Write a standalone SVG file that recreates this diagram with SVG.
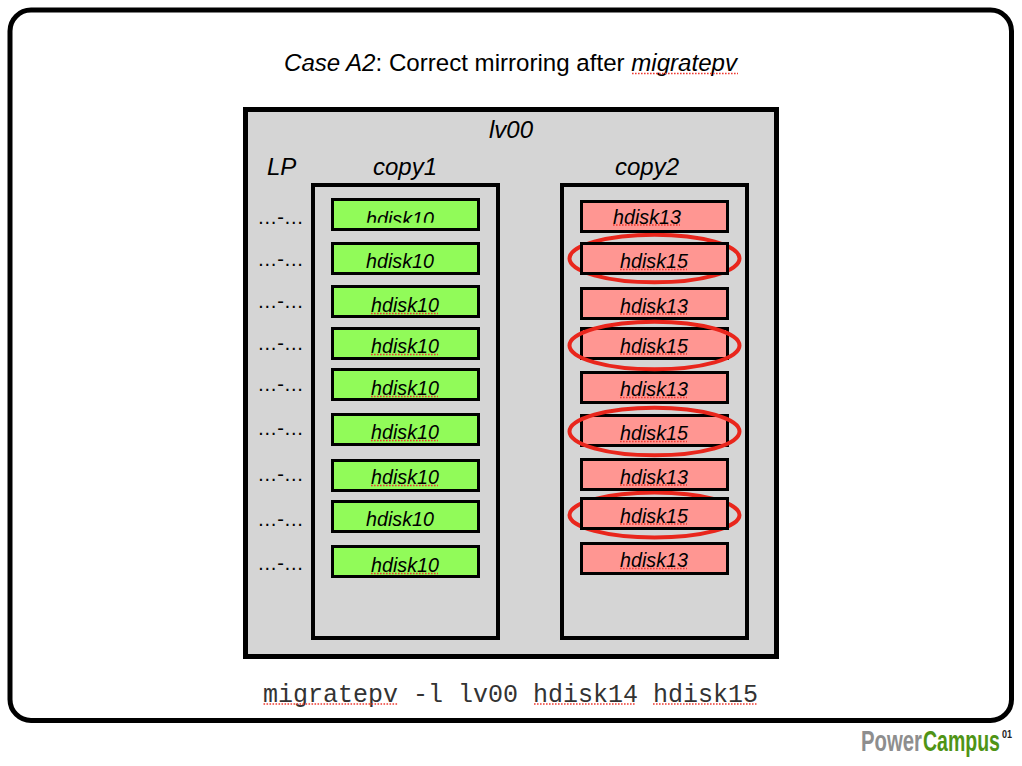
<svg xmlns="http://www.w3.org/2000/svg" width="1022" height="766" viewBox="0 0 1022 766">
<defs>
<style>
text{font-family:"Liberation Sans",Arial,sans-serif;fill:#000}
.i{font-style:italic}
.t{font-size:24.1px}
.h{font-size:24px;font-style:italic}
.d{font-size:19.7px;font-style:italic;text-anchor:middle}
.lp{font-size:20px;text-anchor:middle}
.g{fill:#91fb59;stroke:#000;stroke-width:3}
.r{fill:#ff9692;stroke:#000;stroke-width:3}
.c{fill:none;stroke:#000;stroke-width:4}
.e{fill:none;stroke:#e9261c;stroke-width:4}
.s{fill:none;stroke:#ee3a32;stroke-width:1.6;stroke-dasharray:1.6 1.4}
</style>
<clipPath id="clip-first"><rect x="332" y="198" width="147" height="24.700"/></clipPath>
</defs>
<rect x="0" y="0" width="1022" height="766" fill="#fff"/>
<rect id="frame" x="10" y="10" width="1001.500" height="710.500" rx="21" fill="#fff" stroke="#000" stroke-width="5"/>
<g id="title">
<text x="284" y="71" class="t"><tspan class="i">Case A2</tspan>: Correct mirroring after <tspan class="i">migratepv</tspan></text>
<path class="s" d="M632 73.500H738"/>
</g>
<g id="lv00">
<rect x="245.500" y="109.500" width="531" height="547" fill="#d5d5d5" stroke="#000" stroke-width="5"/>
<text x="489" y="138" class="h">lv00</text>
<text x="267" y="175" class="h">LP</text>
</g>
<g id="copy1">
<text x="373" y="175" class="h">copy1</text>
<rect x="313" y="185" width="185" height="453" class="c"/>
</g>
<g id="copy2">
<text x="615" y="175" class="h">copy2</text>
<rect x="562" y="185" width="185" height="453" class="c"/>
</g>
<g id="lp-labels">
<text x="280.500" y="224" class="lp">…-…</text>
<text x="280.500" y="266" class="lp">…-…</text>
<text x="280.500" y="308" class="lp">…-…</text>
<text x="280.500" y="350" class="lp">…-…</text>
<text x="280.500" y="391" class="lp">…-…</text>
<text x="280.500" y="435" class="lp">…-…</text>
<text x="280.500" y="481" class="lp">…-…</text>
<text x="280.500" y="526" class="lp">…-…</text>
<text x="280.500" y="570" class="lp">…-…</text>
</g>
<g id="copy1-disks">
<rect x="332.500" y="199.500" width="146" height="30" class="g"/><text x="400" y="225.500" class="d" clip-path="url(#clip-first)">hdisk10</text>
<rect x="332.500" y="243.500" width="146" height="30" class="g"/><text x="400" y="268" class="d">hdisk10</text>
<rect x="332.500" y="286.500" width="146" height="30" class="g"/><text x="405" y="312" class="d">hdisk10</text><path class="s" d="M371 313.500H438"/>
<rect x="332.500" y="328.500" width="146" height="30" class="g"/><text x="405" y="353" class="d">hdisk10</text><path class="s" d="M371 354.500H438"/>
<rect x="332.500" y="369.500" width="146" height="30" class="g"/><text x="405" y="395" class="d">hdisk10</text><path class="s" d="M371 396.500H438"/>
<rect x="332.500" y="414.500" width="146" height="30" class="g"/><text x="405" y="439" class="d">hdisk10</text><path class="s" d="M371 440.500H438"/>
<rect x="332.500" y="460.500" width="146" height="30" class="g"/><text x="405" y="484" class="d">hdisk10</text><path class="s" d="M371 485.500H438"/>
<rect x="332.500" y="501.500" width="146" height="30" class="g"/><text x="400" y="526" class="d">hdisk10</text>
<rect x="332.500" y="546.500" width="146" height="30" class="g"/><text x="405" y="572" class="d">hdisk10</text><path class="s" d="M371 573.500H438"/>
</g>
<g id="highlights-behind">
<ellipse cx="654.500" cy="258.500" rx="85" ry="23.800" class="e"/>
<ellipse cx="654.500" cy="515" rx="85" ry="22.500" class="e"/>
</g>
<g id="copy2-disks">
<rect x="581.500" y="201.500" width="146" height="30" class="r"/><text x="647" y="223.500" class="d">hdisk13</text><path class="s" d="M613 225H680"/>
<rect x="581.500" y="243.500" width="146" height="30" class="r"/><text x="654" y="268" class="d">hdisk15</text><path class="s" d="M620 269.500H687"/>
<rect x="581.500" y="288.500" width="146" height="30" class="r"/><text x="654" y="312.500" class="d">hdisk13</text><path class="s" d="M620 314H687"/>
<rect x="581.500" y="328.500" width="146" height="30" class="r"/><text x="654" y="352.500" class="d">hdisk15</text><path class="s" d="M620 354H687"/>
<rect x="581.500" y="372.500" width="146" height="30" class="r"/><text x="654" y="396" class="d">hdisk13</text><path class="s" d="M620 397.500H687"/>
<rect x="581.500" y="415.500" width="146" height="30" class="r"/><text x="654" y="440" class="d">hdisk15</text><path class="s" d="M620 441.500H687"/>
<rect x="581.500" y="459.500" width="146" height="30" class="r"/><text x="654" y="483.500" class="d">hdisk13</text><path class="s" d="M620 485H687"/>
<rect x="581.500" y="498.500" width="146" height="30" class="r"/><text x="654" y="522.500" class="d">hdisk15</text><path class="s" d="M620 524H687"/>
<rect x="581.500" y="543.500" width="146" height="30" class="r"/><text x="654" y="567" class="d">hdisk13</text><path class="s" d="M620 568.500H687"/>
</g>
<g id="highlights-front">
<ellipse cx="654.500" cy="345.500" rx="85" ry="23.800" class="e"/>
<ellipse cx="654.500" cy="431.500" rx="85" ry="23.800" class="e"/>
</g>
<g id="command">
<text x="263" y="702" font-size="25" style="font-family:'Liberation Mono',monospace;fill:#333">migratepv -l lv00 hdisk14 hdisk15</text>
<path class="s" d="M263.500 704H398.500M534 704H636M653 704H756.500"/>
</g>
<g id="logo">
<text transform="translate(861,751) scale(0.678,1)" font-size="30" style="fill:#8e8e8e;font-weight:bold">Power</text>
<text transform="translate(923,751) scale(0.65,1)" font-size="30" style="fill:#4f9416;font-weight:bold">Campus</text>
<text transform="translate(1002,738) scale(0.82,1)" font-size="11" style="fill:#222;font-weight:bold">01</text>
</g>
</svg>
